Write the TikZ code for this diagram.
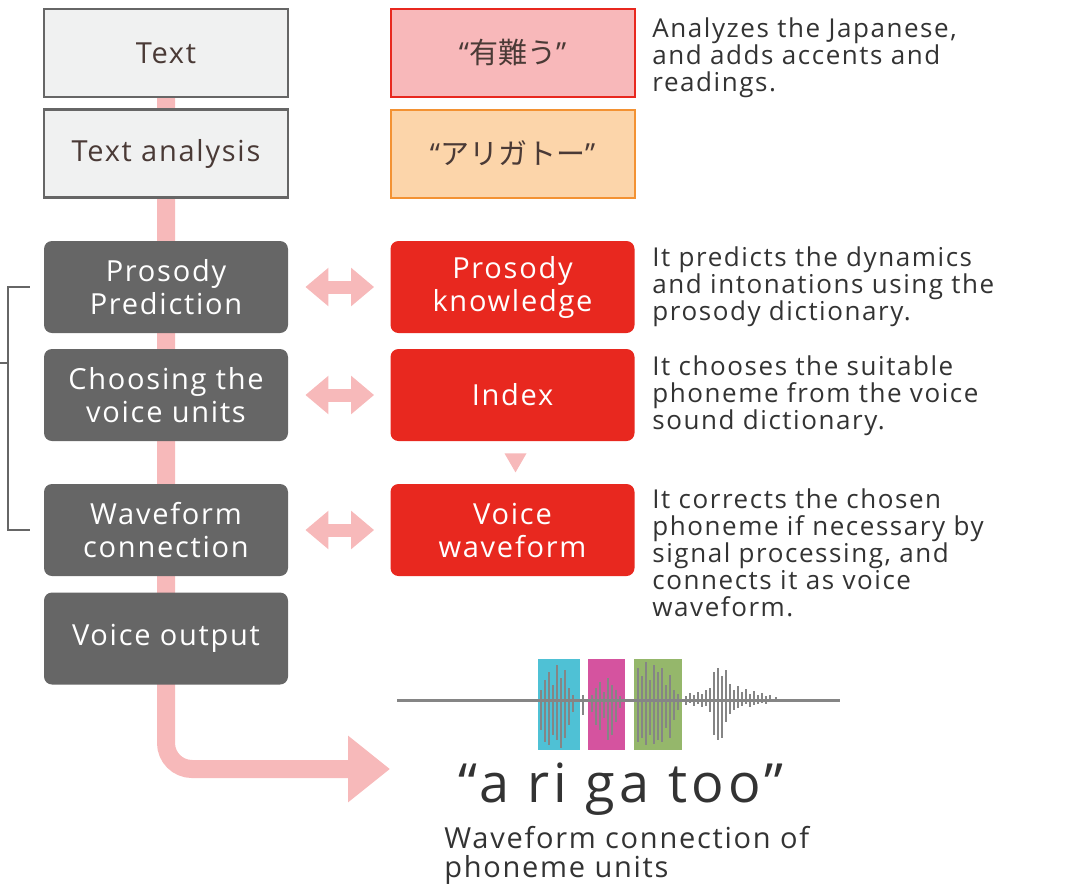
\documentclass[tikz,border=0pt]{standalone}
\usepackage{fontspec}
\setmainfont[LetterSpace=6]{Open Sans}
\newfontfamily\jpfont{Noto Sans CJK JP}
\usetikzlibrary{arrows.meta,backgrounds,calc}

\definecolor{boxgray}{HTML}{666666}
\definecolor{lightbox}{HTML}{F0F1F1}
\definecolor{brownink}{HTML}{4A3A36}
\definecolor{sonyred}{HTML}{E8281F}
\definecolor{pinkfill}{HTML}{F8B8BA}
\definecolor{pinkline}{HTML}{F7B9BA}
\definecolor{orangefill}{HTML}{FCD5AA}
\definecolor{orangeline}{HTML}{F39233}
\definecolor{cyanbar}{HTML}{4FC1D5}
\definecolor{magentabar}{HTML}{D5539F}
\definecolor{greenbar}{HTML}{95B76B}
\definecolor{waveink}{HTML}{858585}
\definecolor{textink}{HTML}{333333}

\tikzset{
  plainbox/.style={rectangle, draw=boxgray, line width=1.2pt, fill=lightbox, text=brownink,
    minimum width=122pt, minimum height=44pt, align=center, font=\fontsize{14.5}{16.5}\selectfont},
  stepbox/.style={rectangle, rounded corners=4pt, fill=boxgray, text=white,
    minimum width=122pt, minimum height=46pt, align=center, font=\fontsize{14.5}{16.5}\selectfont},
  knowbox/.style={stepbox, fill=sonyred},
  note/.style={anchor=north west, inner sep=0pt, text=textink, align=left,
    font=\fontsize{13}{13.6}\selectfont},
  dblarrow/.style={draw=pinkline, line width=6.5pt,
    {Triangle[length=11.5pt,width=18.5pt]}-{Triangle[length=11.5pt,width=18.5pt]},
    shorten <=8.5pt, shorten >=8pt},
  flowband/.style={draw=pinkline, line width=9pt, rounded corners=13pt,
    -{Triangle[length=21pt,width=32pt]}},
  bracket/.style={draw=boxgray, line width=1.3pt},
}

\begin{document}
\begin{tikzpicture}[x=0.5pt, y=-0.5pt]
  \useasboundingbox (0,0) rectangle (1067,885);

  % left column
  \node[plainbox] (text) at (166,53) {Text};
  \node[plainbox] (analysis) at (166,153.5) {Text analysis};
  \node[stepbox] (pros) at (166,287) {Prosody\\Prediction};
  \node[stepbox] (choose) at (166,395) {Choosing the\\voice units};
  \node[stepbox] (wconn) at (166,530) {Waveform\\connection};
  \node[stepbox] (vout) at (166,638.5) {Voice output};

  % right column
  \node[plainbox, fill=pinkfill, draw=sonyred, line width=1pt] (yuu) at (512.5,53) {“{\jpfont 有難う}”};
  \node[plainbox, fill=orangefill, draw=orangeline, line width=1pt] (kana) at (512.5,153.5) {“{\jpfont アリガトー}”};
  \node[knowbox] (know) at (512.5,287) {Prosody\\knowledge};
  \node[knowbox] (index) at (512.5,395) {Index};
  \node[knowbox] (vwave) at (512.5,530) {Voice\\waveform};

  \node[note] (n1) at (652,17) {Analyzes the Japanese,\\and adds accents and\\readings.};
  \node[note] (n2) at (652,246) {It predicts the dynamics\\and intonations using the\\prosody dictionary.};
  \node[note] (n3) at (652,355) {It chooses the suitable\\phoneme from the voice\\sound dictionary.};
  \node[note] (n4) at (652,488) {It corrects the chosen\\phoneme if necessary by\\signal processing, and\\connects it as voice\\waveform.};

  \coordinate (outp) at (390,769);
  \begin{scope}[on background layer]
    \draw[flowband] (text.south) |- (outp);
  \end{scope}

  \draw[dblarrow] (pros.east) -- (know.west);
  \draw[dblarrow] (choose.east) -- (index.west);
  \draw[dblarrow] (wconn.east) -- (vwave.west);

  \fill[pinkline] ($(index.south)+(-8,12)$) -- ($(index.south)+(14,12)$) -- ($(index.south)+(3,31)$) -- cycle;

  % bracket
  \draw[bracket] ($(pros.west)+(-14,0)$) -| (8,400) |- ($(wconn.west)+(-14,0)$);
  \draw[bracket] (0,363) -- (8,363);

  % waveform
  \fill[cyanbar] (538,659) rectangle (580,750);
  \fill[magentabar] (588,659) rectangle (625,750);
  \fill[greenbar] (634,659) rectangle (682,750);
  \draw[waveink, line width=1.5pt] (397,700) -- (840,700);
  \foreach \x/\a/\b in {541/690/730, 545/680/742, 549/672/745, 553/685/735, 557/665/740,
      561/678/748, 565/670/738, 569/688/725, 573/695/712, 583/695/715,
      592/695/712, 596/688/725, 600/682/730, 604/692/718, 608/678/740, 612/685/735,
      616/690/722, 620/696/708, 638/668/742, 642/676/738, 646/662/745, 650/680/735,
      654/665/744, 658/672/740, 662/668/742, 666/685/728, 670/675/738, 674/690/720,
      678/694/710, 686/696/705, 690/693/703, 694/695/706, 698/692/704, 702/694/707,
      706/690/706, 710/688/712, 714/672/735, 718/668/740, 722/676/738, 726/670/722,
      730/684/714, 734/690/710, 738/686/708, 742/692/706, 746/689/704, 750/694/707,
      754/691/705, 758/695/704, 762/693/703, 766/696/704, 770/695/702, 776/697/702}
    \draw[waveink, line width=0.6pt] (\x,\a) -- (\x,\b);

  \node[anchor=base, text=textink, font=\fontsize{27}{27}\selectfont] (arigatoo) at (621,802)
    {\addfontfeature{LetterSpace=8}“a ri ga too”};
  \node[note, font=\fontsize{14.5}{14.5}\selectfont] (caption) at (444,826)
    {Waveform connection of\\phoneme units};
\end{tikzpicture}
\end{document}
